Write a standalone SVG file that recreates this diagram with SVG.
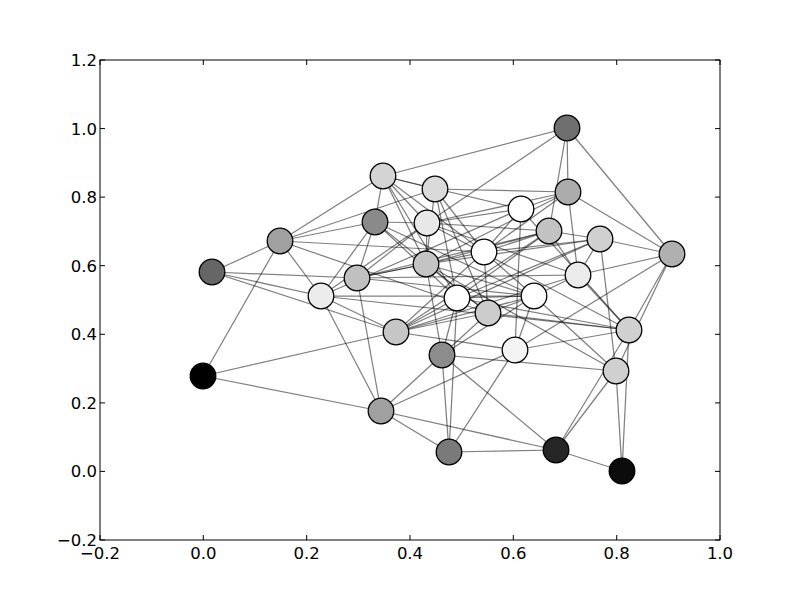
<svg xmlns="http://www.w3.org/2000/svg" width="800" height="600" viewBox="0 0 800 600">
<style>
.edges line{stroke:#000;stroke-opacity:0.5;stroke-width:1.25}
.node circle{stroke:#000;stroke-width:1.3}
.tick{stroke:#000;stroke-width:1}
.lbl{font-family:"DejaVu Sans",sans-serif;font-size:16.5px;fill:#000}
.xl{text-anchor:middle}
.yl{text-anchor:end}
</style>
<rect x="0" y="0" width="800" height="600" fill="#fff"/>
<g id="axes">
<rect x="100" y="60" width="620" height="480" fill="none" stroke="#000" stroke-width="1"/>
<g class="tick">
<path d="M100,540v-5M203.3,540v-5M306.7,540v-5M410,540v-5M513.3,540v-5M616.7,540v-5M720,540v-5M100,60v5M203.3,60v5M306.7,60v5M410,60v5M513.3,60v5M616.7,60v5M720,60v5" stroke="#000"/>
<path d="M100,540h5M100,471.4h5M100,402.9h5M100,334.3h5M100,265.7h5M100,197.1h5M100,128.6h5M100,60h5M720,540h-5M720,471.4h-5M720,402.9h-5M720,334.3h-5M720,265.7h-5M720,197.1h-5M720,128.6h-5M720,60h-5" stroke="#000"/>
</g>
<g class="lbl xl">
<text x="100" y="559">−0.2</text>
<text x="203.3" y="559">0.0</text>
<text x="306.7" y="559">0.2</text>
<text x="410" y="559">0.4</text>
<text x="513.3" y="559">0.6</text>
<text x="616.7" y="559">0.8</text>
<text x="720" y="559">1.0</text>
</g>
<g class="lbl yl">
<text x="97" y="546">−0.2</text>
<text x="97" y="477.4">0.0</text>
<text x="97" y="408.9">0.2</text>
<text x="97" y="340.3">0.4</text>
<text x="97" y="271.7">0.6</text>
<text x="97" y="203.1">0.8</text>
<text x="97" y="134.6">1.0</text>
<text x="97" y="66">1.2</text>
</g>
</g>
<g id="connectors" class="edges">
<line x1="567" y1="128" x2="383" y2="176"/>
<line x1="567" y1="128" x2="427" y2="223"/>
<line x1="567" y1="128" x2="568" y2="192"/>
<line x1="567" y1="128" x2="549" y2="231"/>
<line x1="567" y1="128" x2="672" y2="254"/>
<line x1="383" y1="176" x2="435" y2="189"/>
<line x1="383" y1="176" x2="521" y2="209"/>
<line x1="383" y1="176" x2="280" y2="241"/>
<line x1="383" y1="176" x2="375" y2="222"/>
<line x1="383" y1="176" x2="427" y2="223"/>
<line x1="383" y1="176" x2="426" y2="264"/>
<line x1="383" y1="176" x2="457" y2="298"/>
<line x1="383" y1="176" x2="484" y2="252"/>
<line x1="435" y1="189" x2="568" y2="192"/>
<line x1="435" y1="189" x2="280" y2="241"/>
<line x1="435" y1="189" x2="484" y2="252"/>
<line x1="435" y1="189" x2="457" y2="298"/>
<line x1="435" y1="189" x2="488" y2="313"/>
<line x1="435" y1="189" x2="426" y2="264"/>
<line x1="568" y1="192" x2="672" y2="254"/>
<line x1="568" y1="192" x2="578" y2="275"/>
<line x1="568" y1="192" x2="521" y2="209"/>
<line x1="568" y1="192" x2="427" y2="223"/>
<line x1="568" y1="192" x2="484" y2="252"/>
<line x1="568" y1="192" x2="426" y2="264"/>
<line x1="375" y1="222" x2="427" y2="223"/>
<line x1="375" y1="222" x2="357" y2="278"/>
<line x1="375" y1="222" x2="321" y2="296"/>
<line x1="375" y1="222" x2="457" y2="298"/>
<line x1="375" y1="222" x2="534" y2="296"/>
<line x1="375" y1="222" x2="488" y2="313"/>
<line x1="427" y1="223" x2="521" y2="209"/>
<line x1="427" y1="223" x2="549" y2="231"/>
<line x1="427" y1="223" x2="357" y2="278"/>
<line x1="427" y1="223" x2="578" y2="275"/>
<line x1="427" y1="223" x2="321" y2="296"/>
<line x1="427" y1="223" x2="629" y2="330"/>
<line x1="427" y1="223" x2="426" y2="264"/>
<line x1="521" y1="209" x2="629" y2="330"/>
<line x1="521" y1="209" x2="515" y2="350"/>
<line x1="521" y1="209" x2="484" y2="252"/>
<line x1="521" y1="209" x2="321" y2="296"/>
<line x1="549" y1="231" x2="600" y2="239"/>
<line x1="549" y1="231" x2="578" y2="275"/>
<line x1="549" y1="231" x2="484" y2="252"/>
<line x1="549" y1="231" x2="357" y2="278"/>
<line x1="549" y1="231" x2="426" y2="264"/>
<line x1="549" y1="231" x2="457" y2="298"/>
<line x1="549" y1="231" x2="396" y2="332"/>
<line x1="280" y1="241" x2="212" y2="272"/>
<line x1="280" y1="241" x2="321" y2="296"/>
<line x1="280" y1="241" x2="203" y2="376"/>
<line x1="280" y1="241" x2="375" y2="222"/>
<line x1="280" y1="241" x2="484" y2="252"/>
<line x1="280" y1="241" x2="488" y2="313"/>
<line x1="600" y1="239" x2="672" y2="254"/>
<line x1="600" y1="239" x2="616" y2="371"/>
<line x1="600" y1="239" x2="578" y2="275"/>
<line x1="600" y1="239" x2="484" y2="252"/>
<line x1="600" y1="239" x2="426" y2="264"/>
<line x1="600" y1="239" x2="457" y2="298"/>
<line x1="600" y1="239" x2="396" y2="332"/>
<line x1="672" y1="254" x2="578" y2="275"/>
<line x1="672" y1="254" x2="629" y2="330"/>
<line x1="672" y1="254" x2="616" y2="371"/>
<line x1="672" y1="254" x2="515" y2="350"/>
<line x1="484" y1="252" x2="488" y2="313"/>
<line x1="484" y1="252" x2="396" y2="332"/>
<line x1="484" y1="252" x2="357" y2="278"/>
<line x1="484" y1="252" x2="534" y2="296"/>
<line x1="212" y1="272" x2="357" y2="278"/>
<line x1="212" y1="272" x2="321" y2="296"/>
<line x1="212" y1="272" x2="396" y2="332"/>
<line x1="426" y1="264" x2="357" y2="278"/>
<line x1="426" y1="264" x2="616" y2="371"/>
<line x1="426" y1="264" x2="534" y2="296"/>
<line x1="426" y1="264" x2="488" y2="313"/>
<line x1="426" y1="264" x2="442" y2="355"/>
<line x1="357" y1="278" x2="381" y2="411"/>
<line x1="357" y1="278" x2="578" y2="275"/>
<line x1="357" y1="278" x2="534" y2="296"/>
<line x1="578" y1="275" x2="534" y2="296"/>
<line x1="578" y1="275" x2="629" y2="330"/>
<line x1="578" y1="275" x2="396" y2="332"/>
<line x1="321" y1="296" x2="534" y2="296"/>
<line x1="321" y1="296" x2="396" y2="332"/>
<line x1="321" y1="296" x2="381" y2="411"/>
<line x1="321" y1="296" x2="629" y2="330"/>
<line x1="457" y1="298" x2="534" y2="296"/>
<line x1="457" y1="298" x2="629" y2="330"/>
<line x1="457" y1="298" x2="442" y2="355"/>
<line x1="457" y1="298" x2="449" y2="452"/>
<line x1="457" y1="298" x2="396" y2="332"/>
<line x1="534" y1="296" x2="488" y2="313"/>
<line x1="534" y1="296" x2="616" y2="371"/>
<line x1="534" y1="296" x2="515" y2="350"/>
<line x1="534" y1="296" x2="442" y2="355"/>
<line x1="488" y1="313" x2="442" y2="355"/>
<line x1="488" y1="313" x2="629" y2="330"/>
<line x1="488" y1="313" x2="396" y2="332"/>
<line x1="629" y1="330" x2="556" y2="450"/>
<line x1="629" y1="330" x2="622" y2="471"/>
<line x1="629" y1="330" x2="515" y2="350"/>
<line x1="396" y1="332" x2="203" y2="376"/>
<line x1="396" y1="332" x2="534" y2="296"/>
<line x1="396" y1="332" x2="515" y2="350"/>
<line x1="442" y1="355" x2="616" y2="371"/>
<line x1="442" y1="355" x2="381" y2="411"/>
<line x1="442" y1="355" x2="449" y2="452"/>
<line x1="442" y1="355" x2="556" y2="450"/>
<line x1="515" y1="350" x2="381" y2="411"/>
<line x1="515" y1="350" x2="449" y2="452"/>
<line x1="203" y1="376" x2="381" y2="411"/>
<line x1="616" y1="371" x2="556" y2="450"/>
<line x1="616" y1="371" x2="622" y2="471"/>
<line x1="381" y1="411" x2="449" y2="452"/>
<line x1="381" y1="411" x2="556" y2="450"/>
<line x1="449" y1="452" x2="556" y2="450"/>
<line x1="556" y1="450" x2="622" y2="471"/>
</g>
<g id="nodes">
<g id="n1" class="node"><circle cx="567" cy="128" r="12.8" fill="#6e6e6e"/></g>
<g id="n2" class="node"><circle cx="383" cy="176" r="12.8" fill="#d4d4d4"/></g>
<g id="n3" class="node"><circle cx="435" cy="189" r="12.8" fill="#dadada"/></g>
<g id="n4" class="node"><circle cx="568" cy="192" r="12.8" fill="#acacac"/></g>
<g id="n5" class="node"><circle cx="375" cy="222" r="12.8" fill="#8a8a8a"/></g>
<g id="n6" class="node"><circle cx="427" cy="223" r="12.8" fill="#e8e8e8"/></g>
<g id="n7" class="node"><circle cx="521" cy="209" r="12.8" fill="#ffffff"/></g>
<g id="n8" class="node"><circle cx="549" cy="231" r="12.8" fill="#c2c2c2"/></g>
<g id="n9" class="node"><circle cx="280" cy="241" r="12.8" fill="#a0a0a0"/></g>
<g id="n10" class="node"><circle cx="600" cy="239" r="12.8" fill="#d0d0d0"/></g>
<g id="n11" class="node"><circle cx="672" cy="254" r="12.8" fill="#b0b0b0"/></g>
<g id="n12" class="node"><circle cx="484" cy="252" r="12.8" fill="#ffffff"/></g>
<g id="n13" class="node"><circle cx="212" cy="272" r="12.8" fill="#666666"/></g>
<g id="n14" class="node"><circle cx="426" cy="264" r="12.8" fill="#c4c4c4"/></g>
<g id="n15" class="node"><circle cx="357" cy="278" r="12.8" fill="#c0c0c0"/></g>
<g id="n16" class="node"><circle cx="578" cy="275" r="12.8" fill="#ebebeb"/></g>
<g id="n17" class="node"><circle cx="321" cy="296" r="12.8" fill="#ececec"/></g>
<g id="n18" class="node"><circle cx="457" cy="298" r="12.8" fill="#ffffff"/></g>
<g id="n19" class="node"><circle cx="534" cy="296" r="12.8" fill="#ffffff"/></g>
<g id="n20" class="node"><circle cx="488" cy="313" r="12.8" fill="#cccccc"/></g>
<g id="n21" class="node"><circle cx="629" cy="330" r="12.8" fill="#d0d0d0"/></g>
<g id="n22" class="node"><circle cx="396" cy="332" r="12.8" fill="#c6c6c6"/></g>
<g id="n23" class="node"><circle cx="442" cy="355" r="12.8" fill="#8c8c8c"/></g>
<g id="n24" class="node"><circle cx="515" cy="350" r="12.8" fill="#f4f4f4"/></g>
<g id="n25" class="node"><circle cx="203" cy="376" r="12.8" fill="#000000"/></g>
<g id="n26" class="node"><circle cx="616" cy="371" r="12.8" fill="#d0d0d0"/></g>
<g id="n27" class="node"><circle cx="381" cy="411" r="12.8" fill="#a0a0a0"/></g>
<g id="n28" class="node"><circle cx="449" cy="452" r="12.8" fill="#7a7a7a"/></g>
<g id="n29" class="node"><circle cx="556" cy="450" r="12.8" fill="#262626"/></g>
<g id="n30" class="node"><circle cx="622" cy="471" r="12.8" fill="#0c0c0c"/></g>
</g>
</svg>
